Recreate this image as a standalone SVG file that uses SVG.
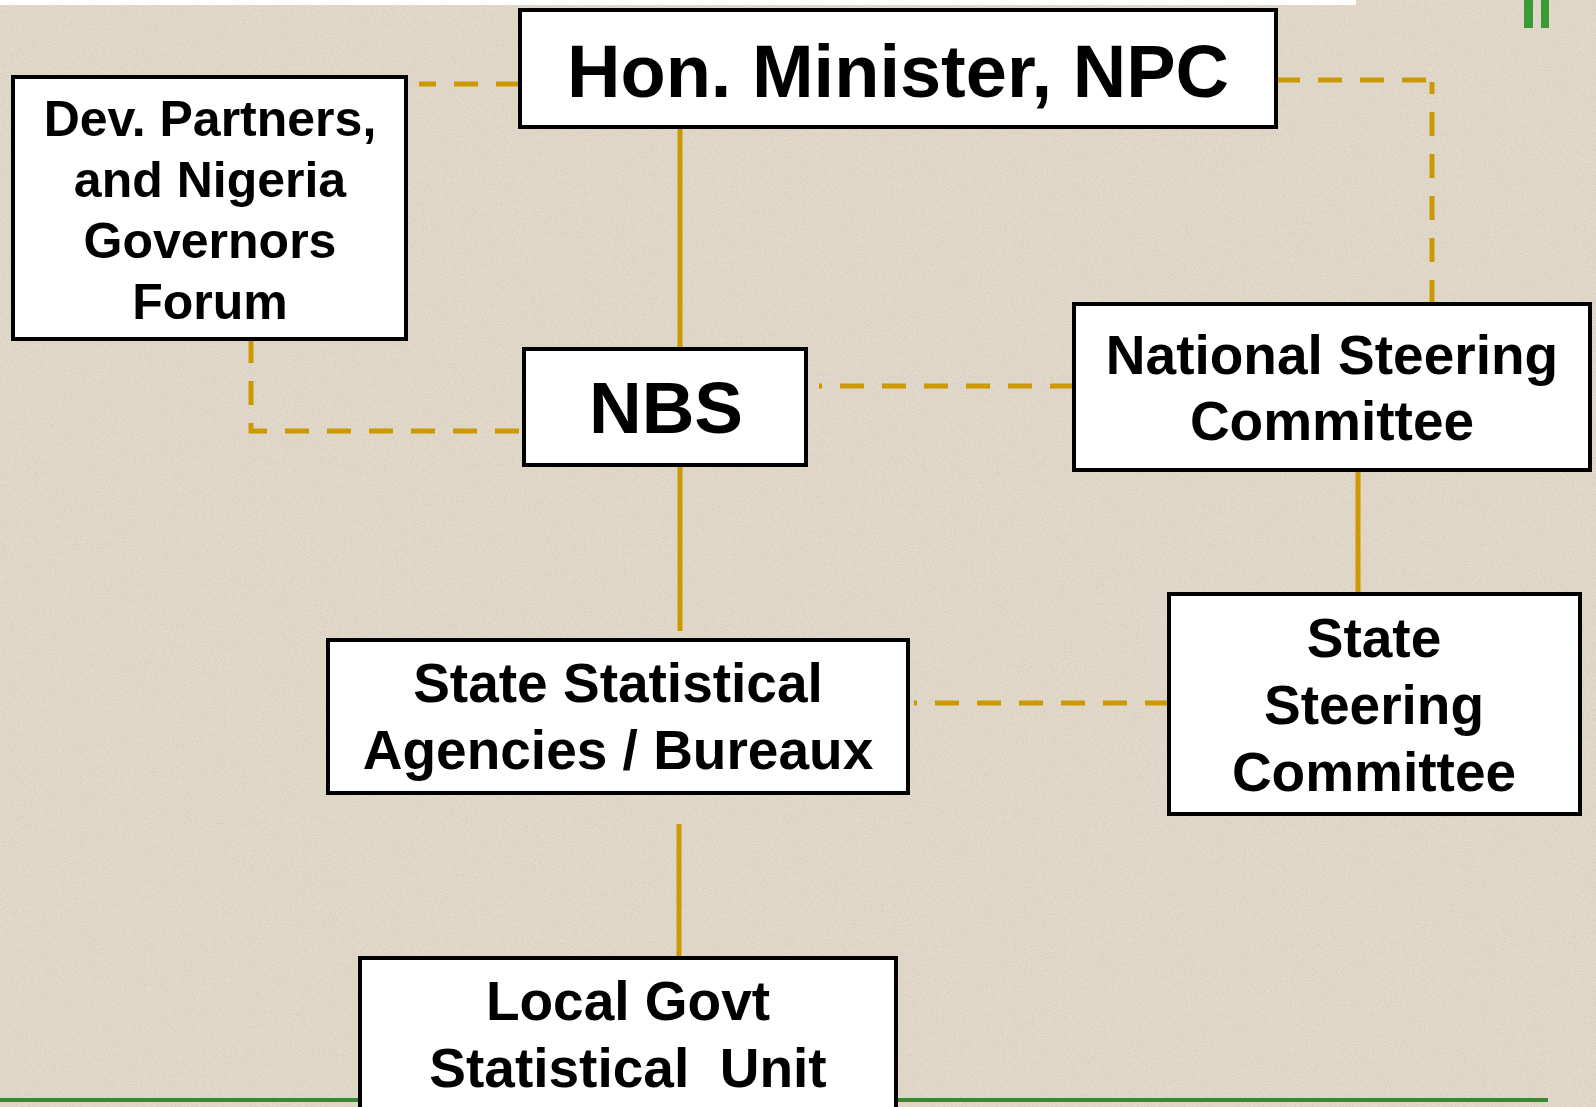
<svg xmlns="http://www.w3.org/2000/svg" width="1596" height="1107" viewBox="0 0 1596 1107">
<style>
.box{fill:#ffffff;stroke:#000000;stroke-width:4}
.t{font-family:"Liberation Sans",Arial,sans-serif;font-weight:bold;fill:#000000;text-anchor:middle}
.solid{fill:none;stroke:#CC9900;stroke-width:5}
.dash{fill:none;stroke:#CC9900;stroke-width:5;stroke-dasharray:24 18}
</style>
<defs>
<filter id="noise" x="0" y="0" width="100%" height="100%">
<feTurbulence type="fractalNoise" baseFrequency="0.9" numOctaves="2" seed="3" result="n"/>
<feColorMatrix type="matrix" values="0 0 0 0 0.45  0 0 0 0 0.42  0 0 0 0 0.38  0 0 0 -2.2 1.25"/>
</filter>
</defs>
<rect x="0" y="0" width="1596" height="1107" fill="#E2D9CA"/>
<rect x="0" y="0" width="1596" height="1107" filter="url(#noise)" opacity="0.35"/>
<rect x="0" y="0" width="1356" height="5" fill="#ffffff"/>
<rect x="1524" y="0" width="9" height="28" fill="#3A9A35"/>
<rect x="1541" y="0" width="8" height="28" fill="#3A9A35"/>
<rect x="0" y="1098" width="1548" height="4" fill="#3B8634"/>
<g id="connectors">
<line class="solid" x1="680" y1="127" x2="680" y2="349"/>
<line class="solid" x1="680" y1="465" x2="680" y2="631"/>
<line class="solid" x1="679" y1="824" x2="679" y2="958"/>
<line class="solid" x1="1358" y1="470" x2="1358" y2="594"/>
<path class="dash" d="M520 84 H419"/>
<path class="dash" d="M1276 80 H1434"/>
<path class="dash" d="M1432 304 V82"/>
<path class="dash" d="M251 339 V431 H524"/>
<path class="dash" d="M1074 386 H819"/>
<path class="dash" d="M1169 703 H914"/>
</g>
<g id="hon-minister">
<rect class="box" x="520" y="10" width="756" height="117"/>
<text class="t" x="898" y="97" font-size="74">Hon. Minister, NPC</text>
</g>
<g id="dev-partners">
<rect class="box" x="13" y="77" width="393" height="262"/>
<text class="t" x="210" y="136" font-size="50">Dev. Partners,</text>
<text class="t" x="210" y="197" font-size="50">and Nigeria</text>
<text class="t" x="210" y="258" font-size="50">Governors</text>
<text class="t" x="210" y="319" font-size="50">Forum</text>
</g>
<g id="nbs">
<rect class="box" x="524" y="349" width="282" height="116"/>
<text class="t" x="666" y="433" font-size="73">NBS</text>
</g>
<g id="national-steering">
<rect class="box" x="1074" y="304" width="516" height="166"/>
<text class="t" x="1332" y="374" font-size="55">National Steering</text>
<text class="t" x="1332" y="440" font-size="55">Committee</text>
</g>
<g id="state-statistical">
<rect class="box" x="328" y="640" width="580" height="153"/>
<text class="t" x="618" y="702" font-size="55">State Statistical</text>
<text class="t" x="618" y="769" font-size="55">Agencies / Bureaux</text>
</g>
<g id="state-steering">
<rect class="box" x="1169" y="594" width="411" height="220"/>
<text class="t" x="1374" y="657" font-size="55">State</text>
<text class="t" x="1374" y="724" font-size="55">Steering</text>
<text class="t" x="1374" y="791" font-size="55">Committee</text>
</g>
<g id="local-govt">
<rect class="box" x="360" y="958" width="536" height="160"/>
<text class="t" x="628" y="1020" font-size="55">Local Govt</text>
<text class="t" x="628" y="1087" font-size="55" xml:space="preserve">Statistical  Unit</text>
</g>
</svg>
